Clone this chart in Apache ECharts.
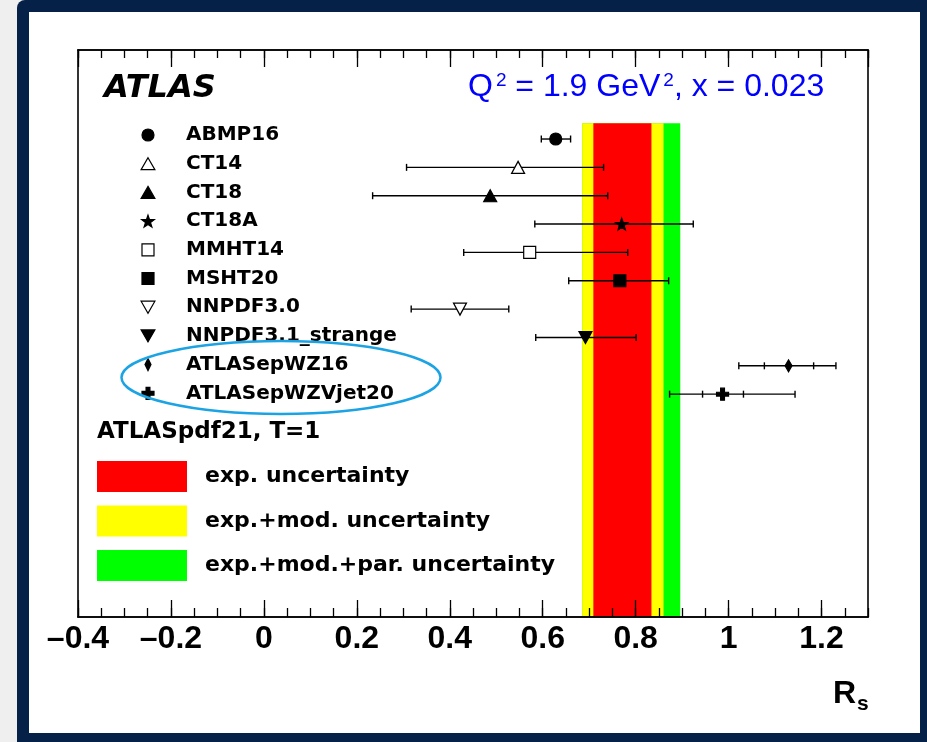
<!DOCTYPE html>
<html>
<head>
<meta charset="utf-8">
<title>ATLAS R_s</title>
<script src="https://cdn.jsdelivr.net/npm/echarts@6/dist/echarts.min.js"></script>
<style>
  html, body { margin: 0; padding: 0; background: #efefef; }
  #chart { width: 927px; height: 742px; }
</style>
</head>
<body>
<div id="chart"></div>
<script>
// values
var pdfNames = ['ABMP16', 'CT14', 'CT18', 'CT18A', 'MMHT14', 'MSHT20', 'NNPDF3.0', 'NNPDF3.1_strange', 'ATLASepWZ16', 'ATLASepWZVjet20'];
var rsCentral = [0.628, 0.547, 0.487, 0.770, 0.572, 0.766, 0.422, 0.692, 1.129, 0.987];
var rsLow = [0.597, 0.307, 0.234, 0.583, 0.430, 0.656, 0.317, 0.585, 1.022, 0.873];
var rsHigh = [0.660, 0.731, 0.740, 0.924, 0.783, 0.871, 0.527, 0.801, 1.231, 1.143];
var rsInnerLow = [null, null, null, null, null, null, null, null, 1.077, 0.944];
var rsInnerHigh = [null, null, null, null, null, null, null, null, 1.183, 1.032];

var bandNames = ['exp. uncertainty', 'exp.+mod. uncertainty', 'exp.+mod.+par. uncertainty'];
var bandLow = [0.709, 0.685, 0.685];
var bandHigh = [0.834, 0.860, 0.896];

// layout / style
var X_MIN = -0.4, X_MAX = 1.3;
var Y_MAX = 20, ROW0 = 3.14, BAND_TOP = 2.585, CAP = 3.5;
var bandColors = ['#ff0000', '#ffff00', '#00ff00'];

var STAR = 'path://M100,0L123.5,67.6L195.1,69.1L138,112.4L158.8,180.9L100,140L41.2,180.9L62,112.4L4.9,69.1L76.5,67.6Z';
var CROSS = 'path://M34,0H66V34H100V66H66V100H34V66H0V34H34Z';
var THIN_DIAMOND = 'path://M25,0L50,50L25,100L0,50Z';
var TRI_UP = 'path://M50,0L100,87L0,87Z';
var TRI_DOWN = 'path://M0,0L100,0L50,87Z';
var SQUARE = 'path://M0,0H100V100H0Z';
var markerSymbols = ['circle', TRI_UP, TRI_UP, STAR, SQUARE, SQUARE, TRI_DOWN, TRI_DOWN, THIN_DIAMOND, CROSS];
var markerSizes = [12, [13, 12], [13, 12], 12, 12, 12, [13, 12], [13, 12], [7, 12], 12];
var markerFills = ['#000', '#fff', '#000', '#000', '#fff', '#000', '#fff', '#000', '#000', '#000'];

var chart = echarts.init(document.getElementById('chart'));

function xAxisCfg(pos, interval, tickLen, withLabels) {
    return {
        type: 'value', position: pos, min: X_MIN, max: X_MAX, interval: interval, z: 10,
        axisLine: { show: true, onZero: false, lineStyle: { color: '#000', width: 1.6 } },
        axisTick: { show: true, inside: true, length: tickLen, lineStyle: { color: '#000', width: 1.3 } },
        splitLine: { show: false },
        axisLabel: withLabels ? {
            show: true, margin: 6, showMaxLabel: false,
            color: '#000', fontFamily: 'Liberation Sans', fontWeight: 'bold', fontSize: 32,
            formatter: function (v) {
                var r = parseFloat(v.toFixed(2));
                return r < 0 ? '\u2013' + Math.abs(r) : String(r);
            }
        } : { show: false }
    };
}

function yAxisCfg(pos) {
    return {
        type: 'value', position: pos, inverse: true, min: 0, max: Y_MAX, z: 10,
        axisLine: { show: true, onZero: false, lineStyle: { color: '#000', width: 1.6 } },
        axisTick: { show: false }, axisLabel: { show: false }, splitLine: { show: false }
    };
}

function renderBand(params, api) {
    var p0 = api.coord([api.value(0), BAND_TOP]);
    var p1 = api.coord([api.value(1), Y_MAX]);
    return {
        type: 'rect',
        shape: { x: p0[0], y: p0[1], width: p1[0] - p0[0], height: p1[1] - p0[1] },
        style: api.style()
    };
}

function renderErr(params, api) {
    var y = api.value(2);
    var a = api.coord([api.value(0), y]);
    var b = api.coord([api.value(1), y]);
    var st = { stroke: '#000', lineWidth: 1.4 };
    var kids = [
        { type: 'line', shape: { x1: a[0], y1: a[1], x2: b[0], y2: b[1] }, style: st },
        { type: 'line', shape: { x1: a[0], y1: a[1] - CAP, x2: a[0], y2: a[1] + CAP }, style: st },
        { type: 'line', shape: { x1: b[0], y1: b[1] - CAP, x2: b[0], y2: b[1] + CAP }, style: st }
    ];
    [api.value(3), api.value(4)].forEach(function (v) {
        if (!isNaN(v) && v !== null) {
            var c = api.coord([v, y]);
            kids.push({ type: 'line', shape: { x1: c[0], y1: c[1] - CAP, x2: c[0], y2: c[1] + CAP }, style: st });
        }
    });
    return { type: 'group', children: kids };
}

var series = [];
// widest band first so the narrower ones sit on top
for (var k = bandNames.length - 1; k >= 0; k--) {
    series.push({
        type: 'custom', name: bandNames[k], z: 1, silent: true,
        itemStyle: { color: bandColors[k] },
        data: [[bandLow[k], bandHigh[k]]],
        renderItem: renderBand
    });
}
series.push({
    type: 'custom', name: 'errors', z: 3, silent: true,
    encode: { x: [0, 1], y: 2 },
    data: pdfNames.map(function (n, i) {
        return [rsLow[i], rsHigh[i], ROW0 + i, rsInnerLow[i], rsInnerHigh[i]];
    }),
    renderItem: renderErr
});
pdfNames.forEach(function (n, i) {
    series.push({
        type: 'scatter', name: n, z: 5, silent: true,
        symbol: markerSymbols[i], symbolSize: markerSizes[i],
        itemStyle: { color: markerFills[i], borderColor: '#000', borderWidth: 1.2, opacity: 1 },
        data: [[rsCentral[i], ROW0 + i]]
    });
});

var option = {
    backgroundColor: '#efefef',
    animation: false,
    grid: { left: 78, right: 59, top: 50, bottom: 125 },
    xAxis: [
        xAxisCfg('bottom', 0.2, 17, true),
        xAxisCfg('bottom', 0.05, 9, false),
        xAxisCfg('top', 0.2, 17, false),
        xAxisCfg('top', 0.05, 8, false)
    ],
    yAxis: [yAxisCfg('left'), yAxisCfg('right')],
    legend: [{
        data: pdfNames,
        orient: 'vertical', left: 140.5, top: 125, padding: 0,
        itemWidth: 66, itemHeight: 12, itemGap: 8.7,
        selectedMode: false,
        itemStyle: { borderWidth: 1.2 },
        textStyle: { color: '#000', fontFamily: 'DejaVu Sans', fontWeight: 'bold', fontSize: 20 }
    }, {
        data: bandNames.map(function (n) { return { name: n, icon: 'rect' }; }),
        orient: 'vertical', left: 97, top: 461, padding: 0,
        itemWidth: 90, itemHeight: 31, itemGap: 13.5,
        selectedMode: false,
        itemStyle: { borderWidth: 0 },
        textStyle: { color: '#000', fontFamily: 'DejaVu Sans', fontWeight: 'bold', fontSize: 22, padding: [0, 0, 0, 13] }
    }],
    graphic: [
        { type: 'rect', z: -20, shape: { x: 17, y: 0, width: 930, height: 742, r: [8, 0, 0, 0] }, style: { fill: '#052148' } },
        { type: 'rect', z: -19, shape: { x: 29, y: 12, width: 891, height: 721 }, style: { fill: '#ffffff' } },
        {
            type: 'text', z: 20, x: 104, y: 89,
            style: { text: 'ATLAS', fill: '#000', fontFamily: 'DejaVu Sans', fontWeight: 'bold', fontStyle: 'italic', fontSize: 32, verticalAlign: 'middle' }
        },
        {
            type: 'text', z: 20, x: 468, y: 87,
            style: {
                text: '{m|Q}{s|2}{m| = 1.9 GeV}{s|2}{m|, x = 0.023}',
                verticalAlign: 'middle',
                fill: '#0000ff',
                rich: {
                    m: { fontFamily: 'Liberation Sans', fontSize: 32, lineHeight: 32, fill: '#0000ff', verticalAlign: 'top' },
                    s: { fontFamily: 'Liberation Sans', fontSize: 19, lineHeight: 19, fill: '#0000ff', verticalAlign: 'top', padding: [0, 0, 0, 3] }
                }
            }
        },
        {
            type: 'text', z: 20, x: 97, y: 432,
            style: { text: 'ATLASpdf21, T=1', fill: '#000', fontFamily: 'DejaVu Sans', fontWeight: 'bold', fontSize: 23, verticalAlign: 'middle' }
        },
        {
            type: 'text', z: 20, x: 833, y: 678,
            style: {
                text: '{r|R}{s|s}',
                verticalAlign: 'top',
                fill: '#000',
                rich: {
                    r: { fontFamily: 'Liberation Sans', fontWeight: 'bold', fontSize: 32, lineHeight: 32, fill: '#000', verticalAlign: 'top' },
                    s: { fontFamily: 'Liberation Sans', fontWeight: 'bold', fontSize: 21, lineHeight: 21, fill: '#000', verticalAlign: 'top', padding: [16, 0, 0, 1] }
                }
            }
        },
        {
            type: 'ellipse', z: 20,
            shape: { cx: 281, cy: 377.5, rx: 159.5, ry: 36.5 },
            style: { fill: 'none', stroke: '#1ba3e3', lineWidth: 2.5 }
        }
    ],
    series: series
};

chart.setOption(option);
</script>
</body>
</html>
